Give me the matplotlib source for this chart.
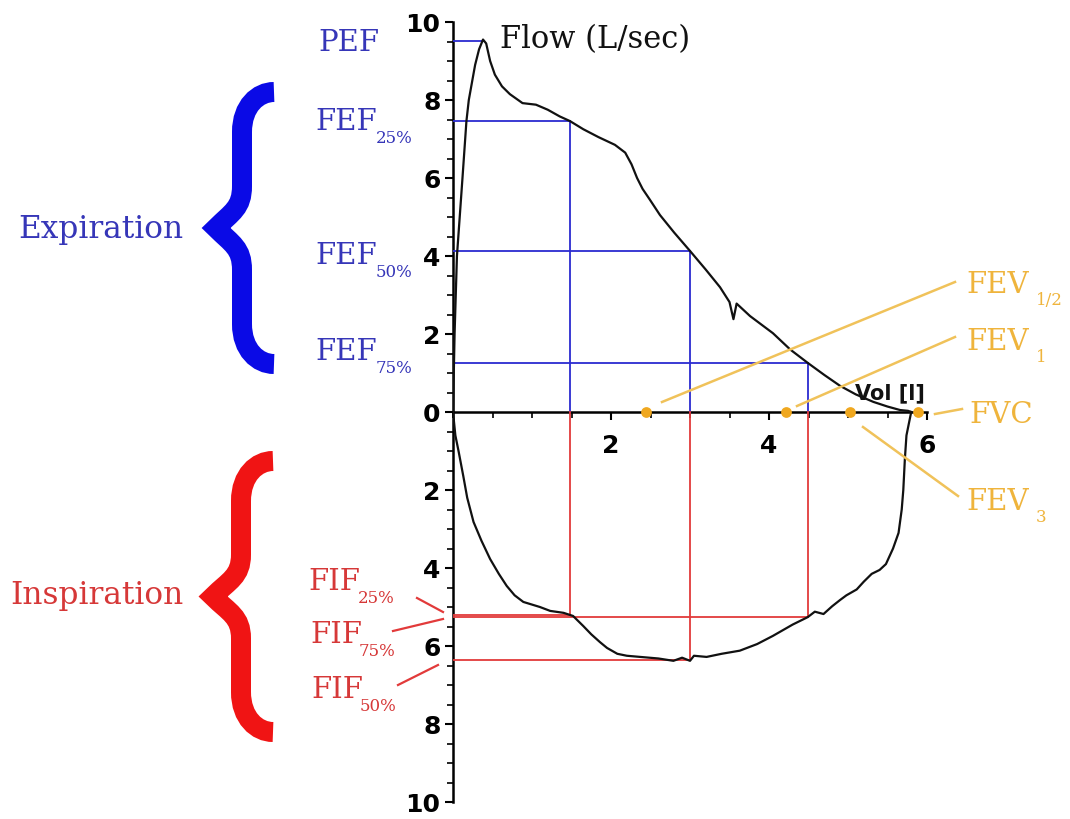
import matplotlib
matplotlib.use("Agg")
import matplotlib.pyplot as plt
from matplotlib.patches import PathPatch
from matplotlib.path import Path
from matplotlib.ticker import FuncFormatter, MultipleLocator

# --- data (volume in l, flow in L/sec) ---
exp_vol = [0.00, 0.02, 0.05, 0.12, 0.17, 0.20, 0.28, 0.33, 0.38, 0.42, 0.47, 0.53,
           0.62, 0.72, 0.88, 1.05, 1.20, 1.35, 1.48, 1.65, 1.84, 2.05, 2.18, 2.26,
           2.33, 2.40, 2.49, 2.62, 2.80, 3.00, 3.20, 3.38, 3.50, 3.55, 3.59, 3.76,
           4.05, 4.27, 4.49, 4.70, 4.90, 5.10, 5.32, 5.50, 5.66, 5.76, 5.80]
exp_flow = [0.0, 2.0, 4.0, 6.0, 7.46, 8.0, 8.9, 9.3, 9.55, 9.45, 9.0, 8.65,
            8.35, 8.15, 7.92, 7.88, 7.75, 7.58, 7.46, 7.25, 7.05, 6.85, 6.65, 6.35,
            6.0, 5.72, 5.45, 5.05, 4.6, 4.13, 3.65, 3.2, 2.82, 2.38, 2.78, 2.46,
            2.02, 1.6, 1.26, 0.95, 0.67, 0.45, 0.26, 0.14, 0.05, 0.03, 0.0]

insp_vol = [5.80, 5.74, 5.72, 5.70, 5.68, 5.64, 5.57, 5.48, 5.40, 5.30, 5.20, 5.11,
            4.98, 4.90, 4.80, 4.69, 4.58, 4.49, 4.30, 4.05, 3.85, 3.63, 3.40, 3.21,
            3.05, 3.00, 2.90, 2.79, 2.60, 2.37, 2.20, 2.08, 1.95, 1.86, 1.75, 1.65,
            1.52, 1.40, 1.23, 1.10, 0.89, 0.78, 0.68, 0.58, 0.47, 0.36, 0.26, 0.18,
            0.13, 0.07, 0.03, 0.00]
insp_flow = [0.0, -0.6, -1.2, -2.0, -2.5, -3.1, -3.5, -3.9, -4.05, -4.15, -4.35, -4.55,
             -4.7, -4.82, -4.98, -5.18, -5.12, -5.26, -5.45, -5.74, -5.95, -6.12, -6.2, -6.28,
             -6.25, -6.38, -6.3, -6.38, -6.32, -6.28, -6.25, -6.2, -6.05, -5.9, -5.7, -5.49,
             -5.23, -5.15, -5.1, -5.0, -4.87, -4.7, -4.46, -4.15, -3.77, -3.3, -2.82, -2.2,
             -1.64, -1.0, -0.6, 0.0]

pef = (0.38, 9.52)
fef_vol = [1.48, 3.00, 4.49]          # 25 %, 50 %, 75 % of FVC
fef_flow = [7.46, 4.13, 1.26]
fif_vol = [1.48, 3.00, 4.49]
fif_flow = [-5.20, -6.36, -5.26]
fev_vol = [2.44, 4.21, 5.03, 5.88]    # FEV1/2, FEV1, FEV3, FVC

BLUE = "#2b2bd0"
BLUE_TXT = "#3636b8"
RED = "#e23a3a"
RED_TXT = "#d63838"
GOLD = "#efb43c"
GOLD_LN = "#f0c25a"
DOT = "#f0a820"
SERIF = "DejaVu Serif"

fig = plt.figure(figsize=(10.7, 8.2), dpi=100)
ax = fig.add_axes([453 / 1070, 17 / 820, 474 / 1070, 780 / 820])
ax.set_xlim(0, 6)
ax.set_ylim(-10, 10)
ax.patch.set_visible(False)

# flow-volume loop
ax.plot(exp_vol, exp_flow, color="#111111", lw=1.6, zorder=4)
ax.plot(insp_vol, insp_flow, color="#111111", lw=1.6, zorder=4)

# expiratory reference lines
ax.plot([0, pef[0]], [pef[1], pef[1]], color=BLUE, lw=1.3, zorder=3)
for v, f in zip(fef_vol, fef_flow):
    ax.plot([0, v], [f, f], color=BLUE, lw=1.3, zorder=3)
    ax.plot([v, v], [f, 0], color=BLUE, lw=1.3, zorder=3)

# inspiratory reference lines
for v, f in zip(fif_vol, fif_flow):
    ax.plot([0, v], [f, f], color=RED, lw=1.3, zorder=3)
    ax.plot([v, v], [0, f], color=RED, lw=1.3, zorder=3)

ax.scatter(fev_vol, [0] * len(fev_vol), s=60, color=DOT, zorder=5, lw=0)

# axes
for side in ("top", "right"):
    ax.spines[side].set_visible(False)
ax.spines["left"].set_position(("data", 0))
ax.spines["left"].set_bounds(-10, 10)
ax.spines["bottom"].set_position(("data", 0))
ax.spines["bottom"].set_bounds(0, 6)
for side in ("left", "bottom"):
    ax.spines[side].set_linewidth(1.8)
ax.set_yticks([-10, -8, -6, -4, -2, 0, 2, 4, 6, 8, 10])
ax.yaxis.set_minor_locator(MultipleLocator(0.5))
ax.yaxis.set_major_formatter(FuncFormatter(lambda v, _: f"{abs(v):g}"))
ax.set_xticks([2, 4, 6])
ax.xaxis.set_minor_locator(MultipleLocator(0.5))
ax.tick_params(axis="y", which="major", length=6, width=1.5, pad=3, labelsize=18)
ax.tick_params(axis="y", which="minor", length=4, width=1.2)
ax.tick_params(axis="x", which="major", length=6, width=1.5, pad=9, labelsize=18)
ax.tick_params(axis="x", which="minor", length=4, width=1.2)
for t in ax.get_xticklabels() + ax.get_yticklabels():
    t.set_fontweight("semibold")

# overlay in pixel coordinates for the annotation
ov = fig.add_axes([0, 0, 1, 1], zorder=10)
ov.set_xlim(0, 1070)
ov.set_ylim(820, 0)
ov.axis("off")


def brace(xe, xs, xt, y0, y1, color, h=10):
    ym = (y0 + y1) / 2
    top, bot = y0 + h, y1 - h
    verts = [
        (xe, top), (xs + 16, top), (xs, top + 14), (xs, top + 40),
        (xs, ym - 42),
        (xs, ym - 20), (xt + 16, ym - 16), (xt, ym),
        (xt + 16, ym + 16), (xs, ym + 20), (xs, ym + 42),
        (xs, bot - 40),
        (xs, bot - 14), (xs + 16, bot), (xe, bot),
    ]
    codes = [Path.MOVETO, Path.CURVE4, Path.CURVE4, Path.CURVE4, Path.LINETO,
             Path.CURVE4, Path.CURVE4, Path.CURVE4, Path.CURVE4, Path.CURVE4,
             Path.CURVE4, Path.LINETO, Path.CURVE4, Path.CURVE4, Path.CURVE4]
    ov.add_patch(PathPatch(Path(verts, codes), fc="none", ec=color, lw=2 * h * 0.72,
                           capstyle="butt", joinstyle="miter"))


def label(x, y, main, sub, color, xsub=None, dy=13):
    ov.text(x, y, main, color=color, family=SERIF, fontsize=21, va="baseline")
    if sub:
        ov.text(xsub, y + dy, sub, color=color, family=SERIF, fontsize=12, va="baseline")


brace(274, 242, 216, 83, 375, "#0a0ae6")
brace(273, 241, 213, 452, 743, "#f01414")

ov.text(18, 238, "Expiration", color=BLUE_TXT, family=SERIF, fontsize=22.5, va="baseline")
ov.text(10, 604, "Inspiration", color=RED_TXT, family=SERIF, fontsize=22.5, va="baseline")

label(318, 51, "PEF", None, BLUE_TXT)
label(315, 130, "FEF", "25%", BLUE_TXT, 376)
label(315, 264, "FEF", "50%", BLUE_TXT, 376)
label(315, 360, "FEF", "75%", BLUE_TXT, 376)

label(308, 590, "FIF", "25%", RED_TXT, 358)
label(310, 643, "FIF", "75%", RED_TXT, 359)
label(311, 698, "FIF", "50%", RED_TXT, 360)
ov.plot([417, 443], [599, 613], color=RED, lw=1.6)
ov.plot([393, 443], [632, 620], color=RED, lw=1.6)
ov.plot([398, 438], [686, 666], color=RED, lw=1.6)

label(966, 293, "FEV", "1/2", GOLD, 1036, dy=12)
label(966, 350, "FEV", "1", GOLD, 1036, dy=12)
label(969, 423, "FVC", None, GOLD)
label(966, 510, "FEV", "3", GOLD, 1036, dy=12)
ov.plot([662, 955], [403, 283], color=GOLD_LN, lw=1.8)
ov.plot([797, 955], [407, 338], color=GOLD_LN, lw=1.8)
ov.plot([935, 962], [415, 410], color=GOLD_LN, lw=1.8)
ov.plot([863, 958], [428, 497], color=GOLD_LN, lw=1.8)

ov.text(500, 48, "Flow (L/sec)", color="#111111", family=SERIF, fontsize=22, va="baseline")
ov.text(855, 399, "Vol [l]", color="#111111", family="DejaVu Sans", fontsize=15,
        fontweight="bold", va="baseline")

fig.savefig("out.png", dpi=100)
